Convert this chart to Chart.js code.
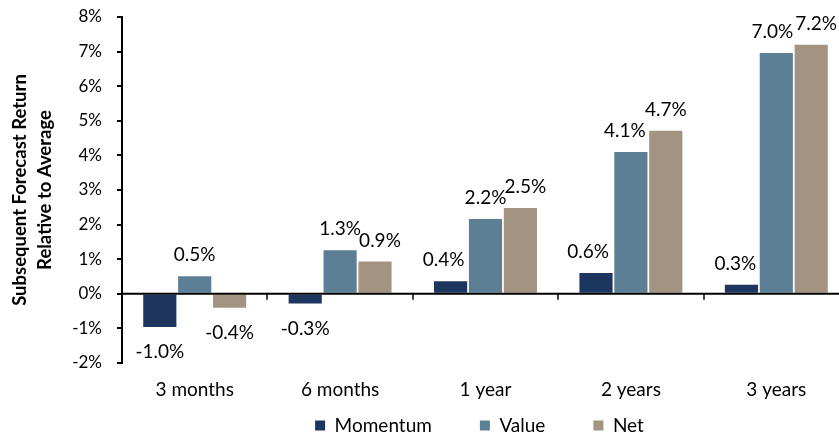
<!DOCTYPE html>
<html>
<head>
<meta charset="utf-8">
<script src="https://cdn.jsdelivr.net/npm/chart.js@4.4.0/dist/chart.umd.min.js"></script>
<style>
  html, body { margin: 0; padding: 0; background: #fff; overflow: hidden; }
  #wrap { width: 849px; height: 432px; }
</style>
</head>
<body>
<div id="wrap"><canvas id="returnChart" width="849" height="432"></canvas></div>
<script>
// Données
const categories = ['3 months', '6 months', '1 year', '2 years', '3 years'];
const momentum = [-0.96, -0.28, 0.36, 0.6, 0.26];
const value = [0.51, 1.26, 2.16, 4.1, 6.96];
const net = [-0.4, 0.93, 2.48, 4.71, 7.2];
const yTicks = { min: -2, max: 8, step: 1 };

// petit décalage horizontal des étiquettes (comme dans l'original)
const labelShift = [
  [0, 0, -7, -8, -6],
  [0, 0, 0, -6, -4],
  [0, 5, 5, 0, 5],
];

const FONT = 'Lato, "Open Sans", sans-serif';

const barLabels = {
  id: 'barLabels',
  afterDatasetsDraw(chart) {
    const { ctx } = chart;
    ctx.save();
    ctx.font = '19px ' + FONT;
    ctx.fillStyle = '#000';
    ctx.textAlign = 'center';
    ctx.textBaseline = 'middle';
    chart.data.datasets.forEach((ds, di) => {
      chart.getDatasetMeta(di).data.forEach((bar, i) => {
        const v = ds.data[i];
        const y = v >= 0 ? bar.y - 21 : bar.y + 25;
        ctx.fillText(v.toFixed(1) + '%', bar.x + labelShift[di][i], y);
      });
    });
    ctx.restore();
  },
};

// axe horizontal à 0 avec petites graduations entre catégories
const zeroAxis = {
  id: 'zeroAxis',
  afterDatasetsDraw(chart) {
    const { ctx, chartArea, scales } = chart;
    const y0 = scales.y.getPixelForValue(0);
    ctx.save();
    ctx.strokeStyle = '#000';
    ctx.lineWidth = 2;
    ctx.beginPath();
    ctx.moveTo(chartArea.left, y0);
    ctx.lineTo(chartArea.right, y0);
    ctx.stroke();
    ctx.lineWidth = 1.5;
    for (let i = 1; i < categories.length; i++) {
      const x = Math.round((scales.x.getPixelForValue(i - 1) + scales.x.getPixelForValue(i)) / 2);
      ctx.beginPath();
      ctx.moveTo(x, y0);
      ctx.lineTo(x, y0 + 6);
      ctx.stroke();
    }
    ctx.restore();
  },
};

// la légende est centrée un peu à gauche et remonte sous les étiquettes
const legendSpot = {
  id: 'legendSpot',
  afterLayout(chart) {
    const lg = chart.legend;
    lg.top = 368;
    lg.bottom = chart.height;
    lg.left -= 6;
    lg.right -= 6;
  },
};

const ctx = document.getElementById('returnChart').getContext('2d');

new Chart(ctx, {
  type: 'bar',
  data: {
    labels: categories,
    datasets: [
      { label: 'Momentum', data: momentum, backgroundColor: '#1d365f' },
      { label: 'Value', data: value, backgroundColor: '#5c7f95' },
      { label: 'Net', data: net, backgroundColor: '#a39381' },
    ],
  },
  options: {
    responsive: false,
    animation: false,
    categoryPercentage: 0.72,
    barPercentage: 0.95,
    layout: { padding: 0 },
    plugins: {
      tooltip: { enabled: false },
      legend: {
        position: 'bottom',
        fullSize: false,
        maxHeight: 24,
        labels: {
          boxWidth: 10,
          boxHeight: 10,
          padding: 48,
          color: '#000',
          font: { family: FONT, size: 19 },
        },
      },
    },
    scales: {
      x: {
        grid: { display: false },
        border: { display: false },
        ticks: { color: '#000', padding: 7, font: { family: FONT, size: 19 } },
        afterFit(scale) { scale.height = 45; },
      },
      y: {
        min: yTicks.min,
        max: yTicks.max,
        ticks: {
          stepSize: yTicks.step,
          color: '#000',
          padding: 15,
          font: { family: FONT, size: 17 },
          callback: (v) => v + '%',
        },
        grid: { drawOnChartArea: false, drawTicks: true, tickLength: 5, color: '#000', lineWidth: 2 },
        border: { display: true, color: '#000', width: 2 },
        title: {
          display: true,
          text: ['Subsequent Forecast Return', 'Relative to Average'],
          color: '#000',
          font: { family: FONT, size: 18.5, weight: 'bold', lineHeight: 1.33 },
          padding: { top: 8, bottom: 0 },
        },
        afterFit(scale) {
          scale.width = 122;
          scale.paddingTop = 17;
          scale.paddingBottom = 10;
        },
      },
    },
  },
  plugins: [barLabels, zeroAxis, legendSpot],
});
</script>
</body>
</html>
